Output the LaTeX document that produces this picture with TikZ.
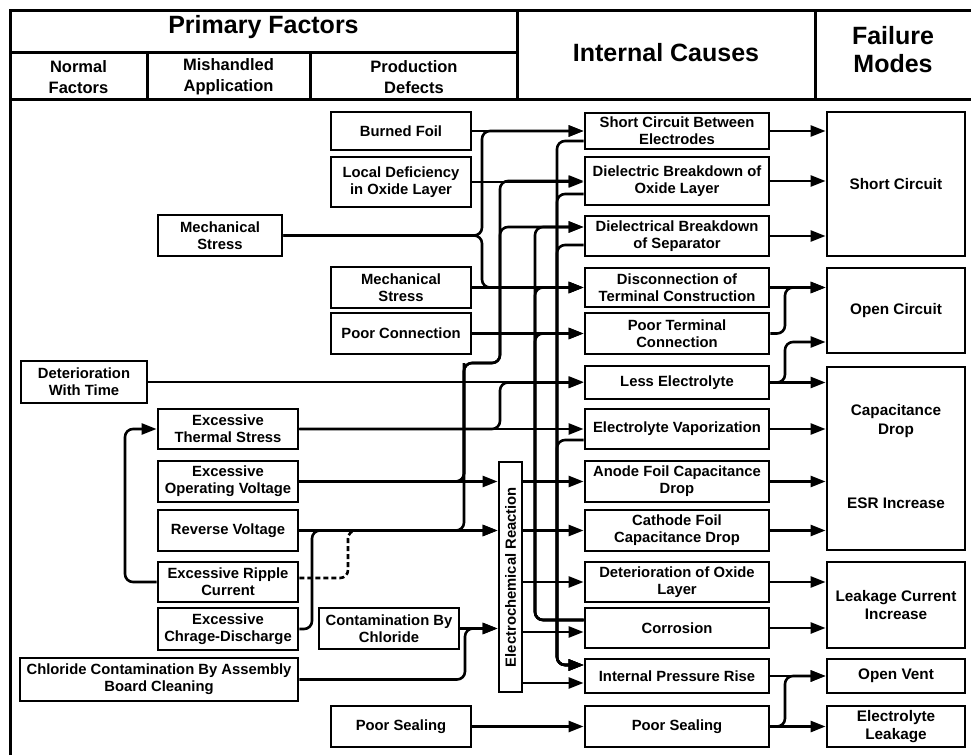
\documentclass[tikz,border=0pt]{standalone}
\usepackage{fontspec}
\setmainfont{Liberation Sans}
\usetikzlibrary{arrows.meta, positioning}

\begin{document}
\begin{tikzpicture}[
  x=1pt, y=-1pt,
  frame/.style={line width=3pt},
  factor/.style={draw, line width=2.8pt, minimum width=140pt, inner sep=0pt, align=center,
    font=\bfseries\fontsize{14.8}{17}\selectfont},
  cause/.style={factor, minimum width=184pt},
  fmode/.style={factor, minimum width=138pt, font=\bfseries\fontsize{15.3}{18.5}\selectfont},
  modetext/.style={align=center, inner sep=0pt, font=\bfseries\fontsize{15.3}{18.5}\selectfont},
  headbig/.style={align=center, inner sep=0pt, font=\bfseries\fontsize{25}{28}\selectfont},
  headsub/.style={align=center, inner sep=0pt, font=\bfseries\fontsize{16.5}{21}\selectfont},
  link/.style={line width=2.6pt, rounded corners=8pt, -{Triangle[length=15pt,width=11pt]}},
  joint/.style={line width=2.6pt, rounded corners=8pt}]

  \useasboundingbox (0,0) rectangle (971,755);

  % header
  \draw[frame] (10,755) -- (10,10) -- (971,10);
  \draw[frame] (10,52) -- (517,52);
  \draw[frame] (10,99) -- (971,99);
  \foreach \x in {147,310} \draw[frame] (\x,52) -- (\x,99);
  \foreach \x in {517,815} \draw[frame] (\x,10) -- (\x,99);
  \node[headbig] (primary) at (263.5,27) {Primary Factors};
  \node[headsub] (normal) at (78.5,77) {Normal\\Factors};
  \node[headsub] (mishandled) at (228.5,77) {Mishandled\\Application};
  \node[headsub] (production) at (414,77) {Production\\Defects};
  \node[headbig] (internal) at (666,53) {Internal Causes};
  \node[headbig] (failure) at (893,50) {Failure\\Modes};

  % production defects
  \node[factor, minimum height=38pt] (bfoil) at (401,131) {Burned Foil};
  \node[factor, minimum height=50pt] (locdef) at (401,182) {Local Deficiency\\in Oxide Layer};
  \node[factor, minimum height=41pt] (mech2) at (401,287.5) {Mechanical\\Stress};
  \node[factor, minimum height=41pt] (poorconn) at (401,333.5) {Poor Connection};
  \node[factor, minimum height=41pt] (contam) at (389,628.5) {Contamination By\\Chloride};
  \node[factor, minimum height=41pt] (psprod) at (401,726.5) {Poor Sealing};

  % mishandled application
  \node[factor, minimum width=124pt, minimum height=41pt] (mech1) at (220,235.5) {Mechanical\\Stress};
  \node[factor, minimum height=40pt] (thermal) at (228,429) {Excessive\\Thermal Stress};
  \node[factor, minimum height=41pt] (opvolt) at (228,481.5) {Excessive\\Operating Voltage};
  \node[factor, minimum height=41pt] (revvolt) at (228,530.5) {Reverse Voltage};
  \node[factor, minimum height=40pt] (ripple) at (228,582) {Excessive Ripple\\Current};
  \node[factor, minimum height=42pt] (chd) at (228,629) {Excessive\\Chrage-Discharge};

  % normal factors
  \node[factor, minimum width=126pt, minimum height=42pt] (dwt) at (84,382) {Deterioration\\With Time};
  \node[factor, minimum width=278pt, minimum height=43pt] (chlas) at (159,679.5) {Chloride Contamination By Assembly\\Board Cleaning};

  \node[draw, line width=2.8pt, minimum width=23pt, minimum height=230pt, inner sep=0pt] (ec) at (510.5,577) {};
  \node[rotate=90, inner sep=0pt, font=\bfseries\fontsize{14.8}{17}\selectfont] (ectext) at (ec.center) {Electrochemical Reaction};

  % internal causes
  \node[cause, minimum height=36pt] (scbe) at (677,131) {Short Circuit Between\\Electrodes};
  \node[cause, minimum height=48pt] (dbol) at (677,181) {Dielectric Breakdown of\\Oxide Layer};
  \node[cause, minimum height=40pt] (dbs) at (677,236) {Dielectrical Breakdown\\of Separator};
  \node[cause, minimum height=39pt] (dtc) at (677,287.5) {Disconnection of\\Terminal Construction};
  \node[cause, minimum height=41pt] (ptc) at (677,333.5) {Poor Terminal\\Connection};
  \node[cause, minimum height=33pt] (le) at (677,382.5) {Less Electrolyte};
  \node[cause, minimum height=40pt] (ev) at (677,429) {Electrolyte Vaporization};
  \node[cause, minimum height=41pt] (afcd) at (677,481.5) {Anode Foil Capacitance\\Drop};
  \node[cause, minimum height=41pt] (cfcd) at (677,530.5) {Cathode Foil\\Capacitance Drop};
  \node[cause, minimum height=40pt] (dol) at (677,582) {Deterioration of Oxide\\Layer};
  \node[cause, minimum height=40pt] (corr) at (677,628) {Corrosion};
  \node[cause, minimum height=34pt] (ipr) at (677,676) {Internal Pressure Rise};
  \node[cause, minimum height=41pt] (ps) at (677,726.5) {Poor Sealing};

  % failure modes
  \node[fmode, minimum height=144pt] (sc) at (896,184) {Short Circuit};
  \node[fmode, minimum height=85pt] (oc) at (896,310.5) {Open Circuit};
  \node[fmode, minimum height=183pt] (cap) at (896,458.5) {};
  \node[modetext] (captext) at (896,421) {Capacitance\\Drop};
  \node[modetext] (esrtext) at (896,503) {ESR Increase};
  \node[fmode, minimum height=86pt] (lci) at (896,605) {Leakage Current\\Increase};
  \node[fmode, minimum height=34pt] (ov) at (896,676) {Open Vent};
  \node[fmode, minimum height=41pt] (el) at (896,726.5) {Electrolyte\\Leakage};

  % bus lines and box ticks
  \coordinate (xa) at (482,0);
  \coordinate (xb) at (464,0);
  \coordinate (xc) at (500,0);
  \coordinate (xd) at (312,0);
  \coordinate (xe) at (125,0);
  \coordinate (xf) at (465,0);
  \coordinate (xg) at (535,0);
  \coordinate (xh) at (557,0);
  \coordinate (xi) at (785,0);
  \coordinate (xr) at (348,0);
  \coordinate (jog) at (0,363);
  \coordinate (scbe-lo) at ([yshift=-10pt]scbe.west);
  \coordinate (dbol-lo) at ([yshift=-13pt]dbol.west);
  \coordinate (dbs-up) at ([yshift=9pt]dbs.west);
  \coordinate (dbs-lo) at ([yshift=-9pt]dbs.west);
  \coordinate (ev-lo) at ([yshift=-11pt]ev.west);
  \coordinate (corr-up) at ([yshift=8pt]corr.west);
  \coordinate (corr-lo) at ([yshift=-4pt]corr.west);
  \coordinate (ipr-up) at ([yshift=11pt]ipr.west);
  \coordinate (ipr-lo) at ([yshift=-7pt]ipr.west);
  \coordinate (oc-lo) at ([yshift=-31.5pt]oc.west);
  \coordinate (ripple-r) at ([yshift=4pt]ripple.east);
  \coordinate (rvj) at ([xshift=75pt]revvolt.east);

  % factors to internal causes
  \foreach \a/\b in {bfoil/scbe, locdef/dbol, mech2/dtc, poorconn/ptc, dwt/le, thermal/ev, psprod/ps}
    \draw[link] (\a.east) -- (\a.east -| \b.west);
  \draw[link] (mech1.east) -- (mech1.east -| xa) |- (scbe.west);
  \draw[link] (mech1.east) -- (mech1.east -| xa) |- (dtc.west);
  \draw[link] (thermal.east) -- (thermal.east -| xc) |- (le.west);
  \draw[link] (opvolt.east) -- (opvolt.east -| xb) -- (xb |- jog) -- (xc |- jog) |- (dbol.west);
  \draw[link] (opvolt.east) -- (opvolt.east -| xb) -- (xb |- jog) -- (xc |- jog) |- (dbs-up);
  \draw[joint] (revvolt.east) -- (revvolt.east -| xb) -- (xb |- jog);
  \draw[link] (ripple.west) -- (ripple.west -| xe) |- (thermal.west);
  \draw[joint, dash pattern=on 5pt off 3pt] (ripple-r) -- (ripple-r -| xr) |- (rvj);
  \draw[link] (chd.east) -- (chd.east -| xd) |- (revvolt.east -| ec.west);
  \draw[link] (chlas.east) -- (chlas.east -| xf) |- (contam.east -| ec.west);
  \foreach \a in {opvolt, revvolt, contam}
    \draw[link] (\a.east) -- (\a.east -| ec.west);

  % electrochemical reaction outputs
  \foreach \b in {afcd.west, cfcd.west, dol.west, corr-lo, ipr-lo}
    \draw[link] (ec.east |- \b) -- (\b);

  % links between internal causes
  \foreach \b in {dbs-up, dtc.west, ptc.west}
    \draw[link] (corr-up) -- (corr-up -| xg) |- (\b);
  \foreach \a in {scbe-lo, dbol-lo, dbs-lo, ev-lo}
    \draw[link] (\a) -- (\a -| xh) |- (ipr-up);

  % internal causes to failure modes
  \foreach \a/\b in {scbe/sc, dbol/sc, dbs/sc, dtc/oc, le/cap, ev/cap, afcd/cap, cfcd/cap, dol/lci, corr/lci, ipr/ov, ps/el}
    \draw[link] (\a.east) -- (\a.east -| \b.west);
  \draw[link] (ptc.east) -- (ptc.east -| xi) |- (dtc.east -| oc.west);
  \draw[link] (le.east) -- (le.east -| xi) |- (oc-lo);
  \draw[link] (ps.east) -- (ps.east -| xi) |- (ov.west);
\end{tikzpicture}
\end{document}
